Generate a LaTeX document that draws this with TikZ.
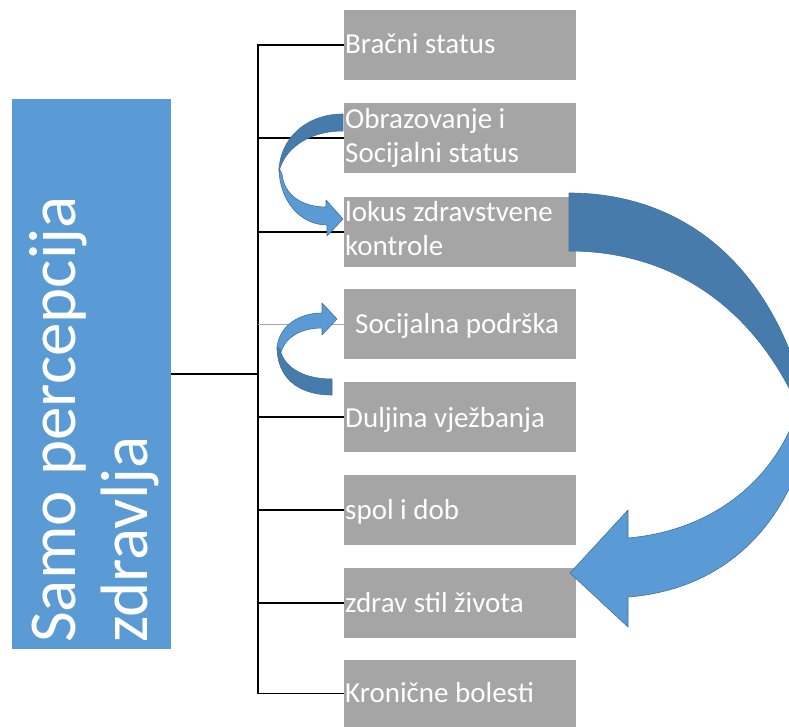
\documentclass[tikz,border=0pt]{standalone}
\usepackage{fontspec}
\setmainfont{Carlito}
\definecolor{boxgray}{HTML}{A5A5A5}
\definecolor{rootblue}{HTML}{5B9BD5}
\definecolor{arrowlight}{HTML}{5B9BD5}
\definecolor{arrowdark}{HTML}{477BAB}
\definecolor{arrowedge}{HTML}{41719C}
\newcommand{\twolines}[2]{\begin{tabular}[t]{@{}l@{}}#1\\#2\end{tabular}}
\begin{document}
\begin{tikzpicture}[x=1pt,y=-1pt,
  itembox/.style={rectangle, fill=boxgray, draw=none, minimum width=232pt, minimum height=70pt, anchor=north west, inner sep=0pt},
  itemtext/.style={anchor=base west, inner sep=0pt, text=white, font=\fontsize{29}{34}\selectfont},
  rootbox/.style={rectangle, fill=rootblue, draw=none, minimum width=159pt, minimum height=550pt, anchor=north west, inner sep=0pt},
  roottext/.style={rotate=90, anchor=base west, inner sep=0pt, text=white, font=\fontsize{67}{72}\selectfont},
  conn/.style={line width=1.5pt, black},
  softconn/.style={line width=1pt, black!35},
  lightpart/.style={fill=arrowlight, draw=arrowedge, line width=0.6pt, line join=round},
  darkpart/.style={fill=arrowdark, draw=arrowedge, line width=0.6pt, line join=round}]
\useasboundingbox (0,0) rectangle (789,727);

% root box
\node[rootbox] (root) at (12,99) {};
\node[roottext] (r1) at (75,643) {Samo percepcija};
\node[roottext] (r2) at (147,643) {zdravlja};

% item boxes
\node[itembox] (b1) at (344,10) {};
\node[itembox] (b2) at (344,103) {};
\node[itembox] (b3) at (344,197) {};
\node[itembox] (b4) at (344,289) {};
\node[itembox] (b5) at (344,382) {};
\node[itembox] (b6) at (344,475) {};
\node[itembox] (b7) at (344,568) {};
\node[itembox, minimum height=67pt] (b8) at (344,660) {};

% item texts
\node[itemtext] (t1) at (345,54) {Bračni status};
\node[itemtext] (t2) at (345,129) {\twolines{Obrazovanje i}{Socijalni status}};
\node[itemtext] (t3) at (345,222) {\twolines{lokus zdravstvene}{kontrole}};
\node[itemtext] (t4) at (355,333) {Socijalna podrška};
\node[itemtext] (t5) at (345,427) {Duljina vježbanja};
\node[itemtext] (t6) at (345,519) {spol i dob};
\node[itemtext] (t7) at (345,612) {zdrav stil života};
\node[itemtext] (t8) at (345,702) {Kronične bolesti};

% connectors
\coordinate (trunk) at (258,45);
\draw[conn] (root.east) -- (root.east -| trunk);
\draw[conn] (b1.west) -| (b8.west -| trunk) -- (b8.west);
\draw[conn] (b2.west -| trunk) -- (b2.west);
\draw[conn] (b3.west -| trunk) -- (b3.west);
\draw[softconn] (b4.west -| trunk) -- (b4.west);
\draw[conn] (b5.west -| trunk) -- (b5.west);
\draw[conn] (b6.west -| trunk) -- (b6.west);
\draw[conn] (b7.west -| trunk) -- (b7.west);

% small curved arrow: Obrazovanje -> lokus
\draw[lightpart] (279,168) .. controls (279,200) and (300,225) .. (327,225) -- (327,236) -- (343,219) -- (326,200) -- (326,207) .. controls (302,207) and (284,195) .. (282,174) -- cycle;
\draw[darkpart] (343,114) .. controls (305,114) and (279,140) .. (279,172) .. controls (283,152) and (305,131) .. (343,131) -- cycle;

% small curved arrow: Duljina -> Socijalna
\draw[lightpart] (277,350) .. controls (277,330) and (295,313) .. (322,313) -- (322,303) -- (337,319) -- (322,335) -- (322,328) .. controls (300,328) and (285,338) .. (281,352) -- cycle;
\draw[darkpart] (332,395) .. controls (295,395) and (277,375) .. (277,347) -- (280,349) .. controls (283,365) and (300,379) .. (332,379) -- cycle;

% big curved arrow: lokus -> zdrav stil zivota
\begin{scope}
\clip (0,0) rectangle (789,727);
\draw[lightpart] (805,380) .. controls (790,470) and (720,530) .. (628,538) -- (628,510) -- (570,573) -- (628,627) -- (628,597) .. controls (720,590) and (790,530) .. (812,420) -- cycle;
\draw[darkpart] (569,193) .. controls (670,193) and (760,250) .. (800,380) -- (795,400) .. controls (750,305) and (670,251) .. (569,251) -- cycle;
\end{scope}
\end{tikzpicture}
\end{document}
